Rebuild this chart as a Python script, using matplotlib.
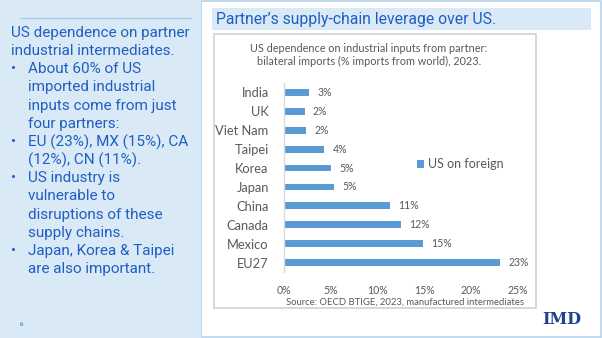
import matplotlib
matplotlib.use("Agg")
import matplotlib.pyplot as plt
from matplotlib.patches import Rectangle
from matplotlib.ticker import FuncFormatter

# ---- data ----
partners = ["EU27", "Mexico", "Canada", "China", "Japan", "Korea", "Taipei", "Viet Nam", "UK", "India"]
shares = [23.1, 14.8, 12.5, 11.3, 5.3, 5.0, 4.3, 2.4, 2.2, 2.7]
share_labels = ["23%", "15%", "12%", "11%", "5%", "5%", "4%", "2%", "2%", "3%"]
x_ticks = [0, 5, 10, 15, 20, 25]
series_name = "US on foreign"

slide_title = "Partner\u2019s supply-chain leverage over US."
chart_title = "US dependence on industrial inputs from partner:\nbilateral imports (% imports from world), 2023."
source_note = "Source: OECD BTIGE, 2023, manufactured intermediates"
panel_lines = [
    ("", "US dependence on partner"),
    ("", "industrial intermediates."),
    ("\u2022", "About 60% of US"),
    ("", "imported industrial"),
    ("", "inputs come from just"),
    ("", "four partners:"),
    ("\u2022", "EU (23%), MX (15%), CA"),
    ("", "(12%), CN (11%)."),
    ("\u2022", "US industry is"),
    ("", "vulnerable to"),
    ("", "disruptions of these"),
    ("", "supply chains."),
    ("\u2022", "Japan, Korea & Taipei"),
    ("", "are also important."),
]

W, H = 602, 338
fig = plt.figure(figsize=(W / 100, H / 100), dpi=100)
fig.patch.set_facecolor("white")

def fx(x):
    return x / W

def fy(y):
    return 1 - y / H

def rect(x0, y0, x1, y1, **kw):
    r = Rectangle((fx(x0), fy(y1)), fx(x1) - fx(x0), fy(y0) - fy(y1),
                  transform=fig.transFigure, **kw)
    fig.patches.append(r)

LIGHT = "#dae9f6"
BLUE_TXT = "#1f5fc4"
GRAY = "#595959"
BAR = "#5b9bd5"

# outer border of right area
rect(201, 0.5, 600.5, 336.5, facecolor="white", edgecolor="#b6d3ee", linewidth=1.2)
# left panel
rect(0, 0, 201, 338, facecolor=LIGHT, edgecolor="none")
fig.add_artist(plt.Line2D([fx(20), fx(191)], [fy(18), fy(18)], transform=fig.transFigure,
                          color="#a9cbea", linewidth=0.9))
# title box
rect(212, 8, 591, 30, facecolor=LIGHT, edgecolor="none")
fig.text(fx(216), fy(19.5), slide_title, fontsize=11.3, color=BLUE_TXT,
         family="Roboto", va="center", ha="left")
# chart box
rect(213.5, 33.5, 536, 308, facecolor="white", edgecolor="#d4d4d4", linewidth=1.3)

# left panel text
FS = 11.0
for i, (b, t) in enumerate(panel_lines):
    yy = 33 + i * 18.15
    if i < 2:
        fig.text(fx(11), fy(yy), t, fontsize=FS, color=BLUE_TXT, family="Roboto",
                 va="center", ha="left")
    else:
        if b:
            fig.text(fx(11), fy(yy), b, fontsize=FS, color=BLUE_TXT, family="Roboto",
                     va="center", ha="left")
        fig.text(fx(28), fy(yy), t, fontsize=FS, color=BLUE_TXT, family="Roboto",
                 va="center", ha="left")
fig.text(fx(21), fy(324), "6", fontsize=4.5, color=BLUE_TXT, family="Roboto",
         va="center", ha="center")

# chart
ax = fig.add_axes([fx(284), fy(272), fx(518) - fx(284), fy(83) - fy(272)])
ax.set_zorder(5)
ax.set_facecolor("none")
ypos = list(range(len(partners)))
bars = ax.barh(ypos, shares, height=0.36, color=BAR, label=series_name)
ax.set_xlim(0, 25)
ax.set_ylim(-0.5, len(partners) - 0.5)
ax.set_yticks(ypos)
ax.set_yticklabels(partners, fontsize=9.3, color=GRAY, family="Lato")
ax.set_xticks(x_ticks)
ax.xaxis.set_major_formatter(FuncFormatter(lambda v, p: f"{v:.0f}%"))
for lab in ax.get_xticklabels():
    lab.set_fontsize(7.6)
    lab.set_color(GRAY)
    lab.set_family("Lato")
ax.tick_params(axis="both", length=0)
ax.tick_params(axis="y", pad=11)
ax.tick_params(axis="x", pad=9)
for s in ["top", "right", "bottom"]:
    ax.spines[s].set_visible(False)
ax.spines["left"].set_color("#d9d9d9")
ax.spines["left"].set_linewidth(1.0)
for b, lab in zip(bars, share_labels):
    ax.annotate(lab, (b.get_width(), b.get_y() + b.get_height() / 2),
                xytext=(6, 0), textcoords="offset points", va="center", ha="left",
                fontsize=7.6, color=GRAY, family="Lato")
leg = ax.legend(loc="center left", bbox_to_anchor=(0.519, 0.569), frameon=False,
                handlelength=0.6, handleheight=0.6, handletextpad=0.3,
                prop={"family": "Lato", "size": 9})
for t in leg.get_texts():
    t.set_color(GRAY)

fig.text(fx(369), fy(55), chart_title, fontsize=7.8, color=GRAY, family="Lato",
         ha="center", va="center", linespacing=1.3)
fig.text(fx(405), fy(302), source_note, fontsize=6.8, color=GRAY, family="Lato",
         ha="center", va="center")

fig.text(fx(562), fy(320), "IMD", fontsize=11.5, color="#1f3f8f", family="DejaVu Serif",
         weight="bold", ha="center", va="center")

fig.savefig("out.png", dpi=100, facecolor=fig.get_facecolor())
